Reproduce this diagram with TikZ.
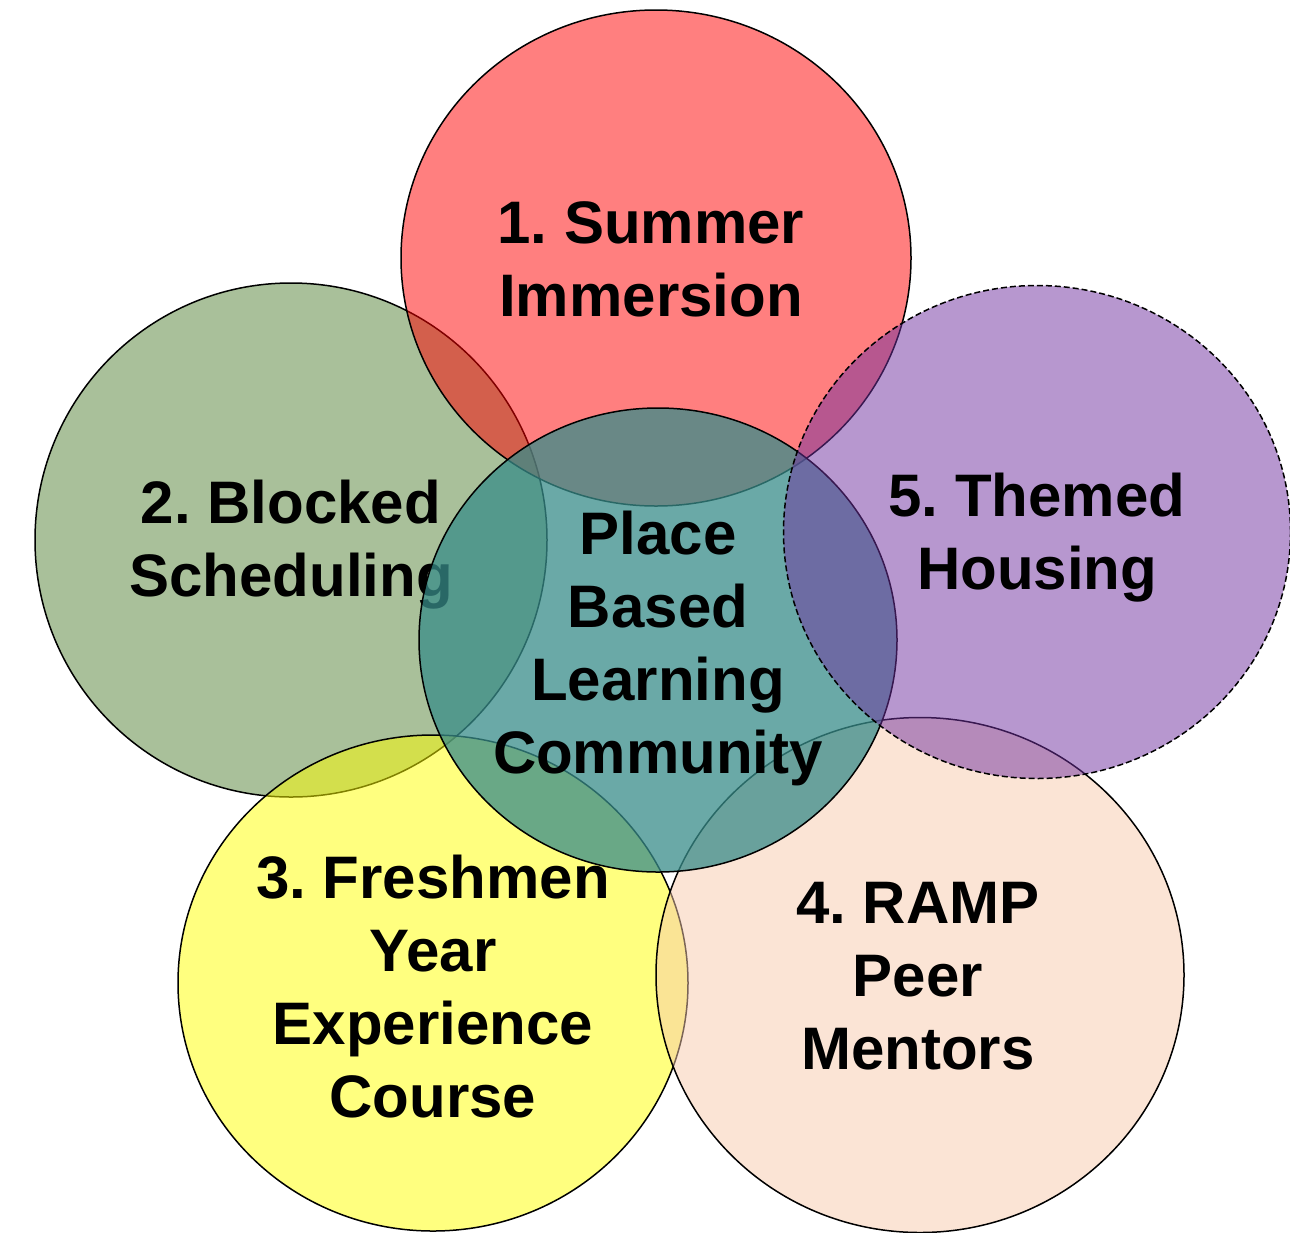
\documentclass[tikz,border=0pt]{standalone}
\usepackage{fontspec}
\setmainfont{Liberation Sans}
\usetikzlibrary{shapes.geometric}
\definecolor{cred}{HTML}{FF0000}
\definecolor{cgreen}{HTML}{538135}
\definecolor{cyellow}{HTML}{FFFF00}
\definecolor{cpeach}{HTML}{F7CAAC}
\definecolor{cpurple}{HTML}{7030A0}
\definecolor{cteal}{RGB}{56,140,137}
\begin{document}
\frenchspacing
\begin{tikzpicture}[x=1pt,y=-1pt,
  disc/.style={ellipse, draw=black, line width=1.5pt, inner sep=0pt, fill opacity=0.5},
  lbl/.style={align=center, font=\fontsize{60}{73}\selectfont\bfseries\frenchspacing, text=black, inner sep=0pt}]
\useasboundingbox (0,0) rectangle (1290,1232);
\node[disc, fill=cgreen, minimum width=512pt, minimum height=514pt] (green) at (291,540) {};
\node[lbl] (tgreen) at (291,545) {2. Blocked\\Scheduling};
\node[disc, fill=cyellow, minimum width=510pt, minimum height=496pt] (yellow) at (433,983) {};
\node[lbl] (tyellow) at (433,987) {3. Freshmen\\Year\\Experience\\Course};
\node[disc, fill=cpeach, minimum width=528pt, minimum height=515pt] (peach) at (920,975) {};
\node[lbl] (tpeach) at (918,976) {4. RAMP\\Peer\\Mentors};
\node[disc, fill=cred, minimum width=510pt, minimum height=496pt] (red) at (656,258) {};
\node[lbl] (tred) at (651,259) {1. Summer\\Immersion};
\node[disc, fill=cteal, fill opacity=0.75, minimum width=478pt, minimum height=464pt] (center) at (658,640) {};
\node[lbl] (tcenter) at (658,648) {Place\\Based\\Learning\\Community};
\node[disc, fill=cpurple, dash pattern=on 6pt off 3pt, minimum width=507pt, minimum height=493pt] (purple) at (1037,532) {};
\node[lbl] (tpurple) at (1037,538) {5. Themed\\Housing};
\end{tikzpicture}
\end{document}
